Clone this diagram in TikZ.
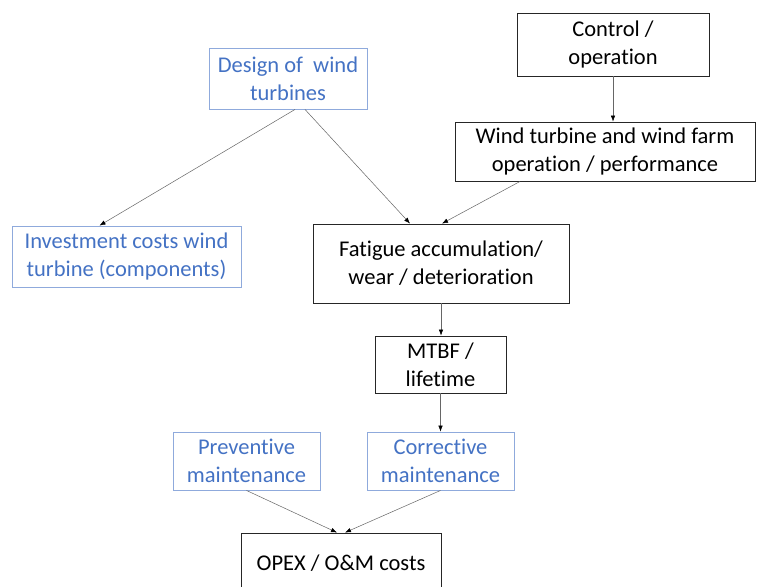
\documentclass[tikz,border=0pt]{standalone}
\usepackage{fontspec}
\setmainfont{Carlito}[Ligatures=NoCommon]
\usetikzlibrary{arrows.meta}
\definecolor{txtblue}{HTML}{4472C4}
\definecolor{boxblue}{HTML}{8FAADC}
\tikzset{
  blkbox/.style={draw=black!85, line width=0.9pt, align=center, inner sep=0pt, font=\fontsize{22.5}{28}\selectfont},
  bluebox/.style={draw=boxblue, line width=0.9pt, text=txtblue, align=center, inner sep=0pt, font=\fontsize{22.5}{28}\selectfont},
  link/.style={draw=black!60, line width=0.5pt, -{Latex[length=6pt,width=4.5pt,black]}}
}
\begin{document}
\begin{tikzpicture}[x=1pt,y=-1pt]
			%%%%% START %%%%%
			\clip (0,0) rectangle (759,586);
			\fill[white] (0,0) rectangle (759,586);
			
			\node[bluebox, minimum width=158pt, minimum height=61pt] (design) at (288,78.5) {Design of \ wind\\turbines};
			\node[blkbox, minimum width=192pt, minimum height=63pt] (control) at (613,44.5) {Control /\\operation};
			\node[blkbox, minimum width=300pt, minimum height=59pt] (oper) at (605,151.5) {Wind turbine and wind farm\\operation / performance};
			\node[bluebox, minimum width=229pt, minimum height=61pt] (invest) at (126.5,256.5) {Investment costs wind\\turbine (components)};
			\node[blkbox, minimum width=256pt, minimum height=79pt] (fatigue) at (441,263.5) {Fatigue accumulation/\\wear / deterioration};
			\node[blkbox, minimum width=131pt, minimum height=57pt] (mtbf) at (440.5,364.5) {MTBF /\\lifetime};
			\node[bluebox, minimum width=147pt, minimum height=58pt] (prev) at (246.5,461) {Preventive\\maintenance};
			\node[bluebox, minimum width=147pt, minimum height=58pt] (corr) at (440.5,461) {Corrective\\maintenance};
			\node[blkbox, minimum width=200pt, minimum height=64pt, text depth=0pt] (opex) at (341,565) {\raisebox{4pt}{OPEX / O\&M costs}};
			
			\draw[link] ([xshift=7pt]design.south) -- ([xshift=-27pt]invest.north);
			\draw[link] ([xshift=17pt]design.south) -- ([xshift=-31pt]fatigue.north);
			\draw[link] (control.south) -- (control.south |- oper.north);
			\draw[link] ([xshift=-85pt]oper.south) -- ([xshift=1pt]fatigue.north);
			\draw[link] (fatigue.south) -- (fatigue.south |- mtbf.north);
			\draw[link] (mtbf.south) -- (mtbf.south |- corr.north);
			\draw[link] (prev.south) -- ([xshift=-4pt]opex.north);
			\draw[link] (corr.south) -- ([xshift=4pt]opex.north);
			%%%%% END %%%%%
\end{tikzpicture}
\end{document}
